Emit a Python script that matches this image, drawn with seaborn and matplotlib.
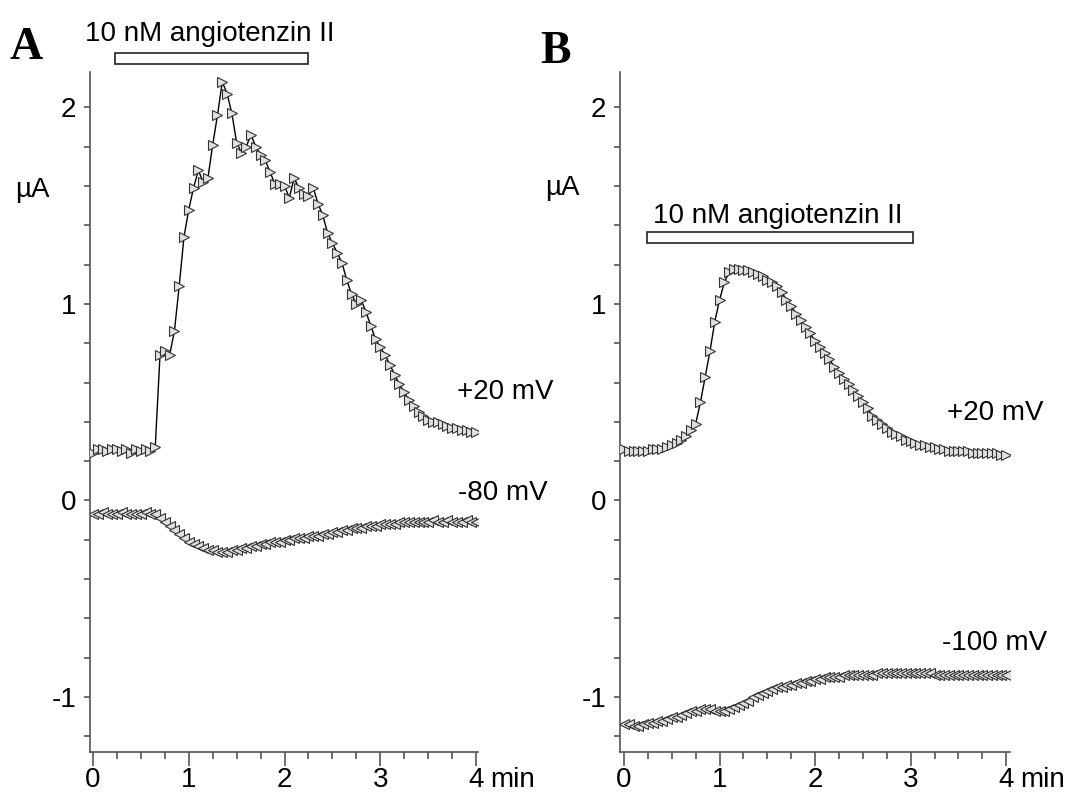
import numpy as np
import matplotlib
matplotlib.use("Agg")
import matplotlib.pyplot as plt
from matplotlib.patches import Rectangle
from matplotlib.ticker import MultipleLocator
import seaborn as sns

sns.set_style("ticks")
plt.rcParams['font.family'] = ['Liberation Sans Narrow', 'Liberation Sans', 'DejaVu Sans']
plt.rcParams['font.size'] = 20
plt.rcParams['text.color'] = 'black'
plt.rcParams['xtick.labelcolor'] = 'black'
plt.rcParams['ytick.labelcolor'] = 'black'

# sampling times (min), one point every 3 s
time_min = np.linspace(0, 4, 81)

# panel A, current in uA
amp_a_pos20 = [
    0.24, 0.26, 0.26, 0.25, 0.26, 0.26, 0.25, 0.26, 0.24, 0.26,
    0.25, 0.26, 0.25, 0.27, 0.74, 0.76, 0.74, 0.86, 1.09, 1.34,
    1.48, 1.59, 1.68, 1.62, 1.64, 1.81, 1.96, 2.13, 2.07, 1.97,
    1.82, 1.77, 1.80, 1.86, 1.80, 1.76, 1.73, 1.67, 1.61, 1.61,
    1.60, 1.54, 1.64, 1.59, 1.56, 1.55, 1.59, 1.51, 1.45, 1.36,
    1.31, 1.26, 1.21, 1.12, 1.05, 1.00, 1.02, 0.96, 0.89, 0.82,
    0.78, 0.74, 0.69, 0.64, 0.59, 0.55, 0.51, 0.48, 0.45, 0.43,
    0.41, 0.40, 0.40, 0.39, 0.38, 0.37, 0.37, 0.36, 0.36, 0.35,
    0.35]
amp_a_neg80 = [
    -0.07, -0.07, -0.06, -0.07, -0.07, -0.07, -0.06, -0.07, -0.07, -0.07,
    -0.07, -0.06, -0.07, -0.07, -0.09, -0.11, -0.13, -0.15, -0.17, -0.19,
    -0.21, -0.22, -0.23, -0.24, -0.25, -0.25, -0.26, -0.26, -0.26, -0.25,
    -0.25, -0.24, -0.24, -0.23, -0.23, -0.22, -0.22, -0.21, -0.21, -0.21,
    -0.20, -0.20, -0.19, -0.19, -0.19, -0.18, -0.18, -0.18, -0.17, -0.17,
    -0.16, -0.16, -0.15, -0.15, -0.14, -0.14, -0.14, -0.13, -0.13, -0.13,
    -0.12, -0.12, -0.12, -0.12, -0.11, -0.11, -0.11, -0.11, -0.11, -0.11,
    -0.11, -0.10, -0.11, -0.11, -0.10, -0.11, -0.11, -0.11, -0.10, -0.11,
    -0.11]

# panel B, current in uA
amp_b_pos20 = [
    0.26, 0.25, 0.25, 0.25, 0.25, 0.25, 0.26, 0.26, 0.26, 0.27,
    0.28, 0.29, 0.31, 0.33, 0.36, 0.39, 0.50, 0.63, 0.76, 0.91,
    1.02, 1.11, 1.16, 1.18, 1.18, 1.17, 1.17, 1.16, 1.15, 1.14,
    1.12, 1.11, 1.09, 1.06, 1.02, 0.99, 0.95, 0.92, 0.88, 0.85,
    0.81, 0.78, 0.75, 0.72, 0.68, 0.65, 0.62, 0.59, 0.56, 0.53,
    0.50, 0.47, 0.43, 0.41, 0.39, 0.37, 0.35, 0.34, 0.33, 0.31,
    0.30, 0.29, 0.28, 0.28, 0.27, 0.27, 0.26, 0.26, 0.25, 0.25,
    0.25, 0.25, 0.25, 0.24, 0.24, 0.24, 0.24, 0.24, 0.24, 0.23,
    0.23]
amp_b_neg100 = [
    -1.14, -1.14, -1.15, -1.15, -1.14, -1.13, -1.13, -1.12, -1.12, -1.11,
    -1.10, -1.10, -1.09, -1.08, -1.07, -1.07, -1.06, -1.06, -1.06, -1.07,
    -1.07, -1.07, -1.06, -1.05, -1.04, -1.03, -1.02, -1.00, -0.99, -0.98,
    -0.97, -0.96, -0.95, -0.95, -0.94, -0.94, -0.93, -0.93, -0.92, -0.92,
    -0.91, -0.91, -0.90, -0.90, -0.90, -0.90, -0.89, -0.89, -0.89, -0.89,
    -0.89, -0.89, -0.89, -0.88, -0.88, -0.88, -0.88, -0.88, -0.88, -0.88,
    -0.88, -0.88, -0.88, -0.88, -0.88, -0.89, -0.89, -0.89, -0.89, -0.89,
    -0.89, -0.89, -0.89, -0.89, -0.89, -0.89, -0.89, -0.89, -0.89, -0.89,
    -0.89]

drug_label = "10 nM angiotenzin II"
drug_a = (0.23, 2.245)   # application window, min
drug_b = (0.24, 3.02)

fig = plt.figure(figsize=(10.68, 7.96), dpi=100)
ax_a = fig.add_axes([90 / 1068, 1 - 752 / 796, 388 / 1068, 680 / 796])
ax_b = fig.add_axes([620 / 1068, 1 - 752 / 796, 390 / 1068, 680 / 796])


def trace(ax, y, mk):
    sns.lineplot(x=time_min, y=y, ax=ax, color='black', lw=1.0, estimator=None,
                 marker=mk, markersize=7, markerfacecolor='#e0e0e0',
                 markeredgecolor='#333333', markeredgewidth=0.8, zorder=3)


def style_axes(ax, xlim):
    ax.set_xlim(*xlim)
    ax.set_ylim(-1.28, 2.18)
    sns.despine(ax=ax)
    for s in ['left', 'bottom']:
        ax.spines[s].set_color('#555555')
        ax.spines[s].set_linewidth(1.2)
    ax.set_xticks([0, 1, 2, 3, 4])
    ax.xaxis.set_minor_locator(MultipleLocator(0.25))
    ax.set_yticks([-1, 0, 1, 2])
    ax.set_yticklabels(['-1', '0', '1', '2'])
    ax.yaxis.set_minor_locator(MultipleLocator(0.2))
    ax.tick_params(axis='x', which='major', length=10, width=1.2, color='#555555', pad=1, labelsize=20)
    ax.tick_params(axis='x', which='minor', length=5, width=1.2, color='#555555')
    ax.tick_params(axis='y', which='both', length=4, width=1.2, color='#555555', pad=6, labelsize=20)
    ax.set_xlabel('')
    ax.set_ylabel('')
    ax.annotate('min', xy=(4, 0), xycoords=('data', 'axes fraction'),
                xytext=(10, -11), textcoords='offset points', va='top', ha='left', fontsize=20)


def drug_bar(ax, span, ybot, h, ytext):
    ax.add_patch(Rectangle((span[0], ybot), span[1] - span[0], h, facecolor='white',
                           edgecolor='#222222', lw=1.2, clip_on=False))
    ax.text((span[0] + span[1]) / 2 - 0.02, ytext, drug_label, ha='center', va='baseline', fontsize=20)


trace(ax_a, amp_a_pos20, '>')
trace(ax_a, amp_a_neg80, '<')
style_axes(ax_a, (-0.031, 4.02))
drug_bar(ax_a, drug_a, 2.22, 0.057, 2.34)
ax_a.text(3.80, 0.55, '+20 mV', ha='left', va='center', fontsize=20)
ax_a.text(3.81, 0.04, '-80 mV', ha='left', va='center', fontsize=20)

trace(ax_b, amp_b_pos20, '>')
trace(ax_b, amp_b_neg100, '<')
style_axes(ax_b, (-0.042, 4.04))
drug_bar(ax_b, drug_b, 1.31, 0.056, 1.41)
ax_b.text(3.38, 0.445, '+20 mV', ha='left', va='center', fontsize=20)
ax_b.text(3.33, -0.726, '-100 mV', ha='left', va='center', fontsize=20)

fig.text(15 / 1068, 1 - 190 / 796, 'µA', ha='left', va='center', fontsize=20)
fig.text(545 / 1068, 1 - 188 / 796, 'µA', ha='left', va='center', fontsize=20)
fig.text(10 / 1068, 1 - 48 / 796, 'A', ha='left', va='center', fontsize=33,
         fontweight='bold', family=['Liberation Serif', 'DejaVu Serif'])
fig.text(540 / 1068, 1 - 52 / 796, 'B', ha='left', va='center', fontsize=33,
         fontweight='bold', family=['Liberation Serif', 'DejaVu Serif'])

fig.savefig('out.png', dpi=100)
